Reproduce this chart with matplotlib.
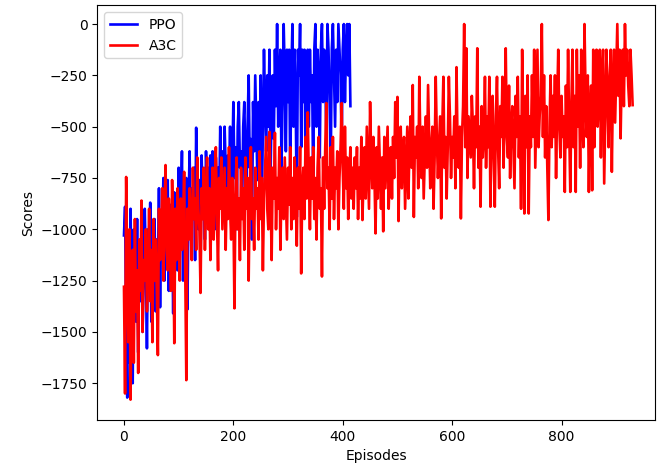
import numpy as np
import matplotlib
matplotlib.use("Agg")
import matplotlib.pyplot as plt

# ======================================================================
# Scores, one value every EPISODE_STEP episodes
# ======================================================================
EPISODE_STEP = 2

ppo_scores = [
    -1030, -890, -1500, -1820, -1100, -1650, -900, -1300, -1750, -1000,
    -1200, -1450, -950, -1600, -1100, -1350, -1000, -1500, -1250, -900,
    -1150, -1580, -1000, -1300, -870, -1450, -1100, -1250, -950, -1400,
    -1050, -1200, -800, -1380, -950, -1100, -750, -1250, -900, -1050,
    -760, -1300, -880, -1150, -1000, -1410, -820, -1050, -950, -1200,
    -700, -1100, -900, -620, -1250, -850, -1000, -750, -1390, -900,
    -620, -1050, -800, -950, -700, -1150, -505, -880, -1000, -760,
    -1200, -640, -900, -760, -1050, -620, -830, -700, -950, -640,
    -870, -620, -760, -1000, -650, -820, -700, -900, -500, -780,
    -620, -950, -500, -700, -850, -640, -760, -500, -880, -700,
    -380, -750, -600, -1000, -500, -380, -700, -620, -900, -500,
    -380, -650, -800, -500, -250, -700, -560, -1050, -380, -620,
    -250, -500, -760, -380, -620, -250, -900, -500, -125, -400,
    -620, -250, -500, -125, -750, -380, -250, -560, -125, -400,
    0, -500, -250, -125, -700, -380, 0, -250, -620, -125,
    -380, -125, -730, -250, 0, -500, -125, -380, -940, -125,
    -250, 0, -600, -125, -380, -125, -700, -250, -125, -500,
    -125, -380, -250, -800, -125, 0, -500, -125, -250, -650,
    -125, 0, -380, -125, -250, -560, 0, -125, -380, -700,
    -125, 0, -250, -500, -125, -380, 0, -125, -250, -600,
    -125, 0, -380, -125, 0, -250, 0, -400,
]

a3c_scores = [
    -1280, -1800, -745, -1200, -1550, -1000, -1830, -1300, -1100, -1650,
    -950, -1400, -1200, -1700, -1050, -1300, -860, -1500, -1150, -1250,
    -1000, -1400, -1200, -900, -1350, -1100, -1550, -950, -1250, -1050,
    -1300, -1613, -900, -1150, -1000, -800, -1250, -950, -687, -1100,
    -1200, -850, -1050, -1300, -760, -1000, -1555, -900, -1150, -800,
    -1000, -1250, -850, -1100, -950, -720, -1200, -1735, -900, -1050,
    -800, -1000, -1150, -700, -950, -850, -1100, -650, -900, -1000,
    -1310, -800, -950, -700, -1100, -850, -650, -1000, -800, -1150,
    -900, -700, -1050, -800, -600, -950, -1200, -750, -900, -650,
    -1000, -850, -700, -1100, -800, -950, -600, -900, -1050, -750,
    -900, -1385, -800, -650, -1000, -850, -1150, -700, -950, -800,
    -1100, -650, -900, -750, -1250, -800, -600, -950, -850, -1100,
    -700, -900, -800, -1050, -620, -950, -750, -1200, -850, -700,
    -550, -900, -1000, -525, -800, -1150, -700, -850, -530, -1000,
    -750, -900, -600, -1100, -800, -700, -950, -650, -850, -1050,
    -700, -880, -600, -1000, -750, -950, -650, -850, -1080, -700,
    -900, -600, -1215, -800, -700, -950, -550, -850, -430, -750,
    -1000, -650, -850, -600, -950, -750, -1050, -700, -550, -900,
    -800, -1230, -650, -900, -600, -385, -800, -700, -1000, -600,
    -850, -550, -950, -700, -800, -620, -1000, -750, -600, -385,
    -700, -900, -500, -800, -650, -950, -750, -600, -850, -700,
    -900, -650, -800, -600, -950, -700, -850, -550, -955, -750,
    -600, -850, -500, -700, -900, -380, -650, -800, -550, -750,
    -1020, -600, -850, -500, -700, -900, -650, -1010, -550, -800,
    -650, -500, -900, -700, -600, -850, -550, -750, -380, -650,
    -355, -960, -600, -500, -800, -650, -550, -900, -700, -500,
    -850, -600, -450, -700, -297, -940, -550, -650, -500, -800,
    -257, -600, -750, -500, -850, -650, -450, -700, -297, -550,
    -800, -600, -500, -900, -650, -257, -550, -750, -600, -450,
    -947, -500, -257, -700, -550, -850, -600, -257, -450, -750,
    -550, -650, -450, -800, -210, -600, -700, -500, -947, -550,
    -400, 0, -600, -118, -750, -450, -550, -650, -350, -500,
    -800, -450, -600, -118, -700, -500, -890, -400, -650, -550,
    -257, -700, -450, -600, -257, -890, -500, -350, -650, -890,
    -450, -257, -600, -800, -400, -550, -257, -700, -450, -118,
    -550, -650, -300, -750, -500, -400, -600, -800, -350, -550,
    -257, -650, -450, -900, -125, -500, -923, -350, -600, -250,
    -923, -450, -600, -250, -550, -125, -700, -400, -125, -600,
    -450, -350, 0, -550, -250, -650, -400, -700, -955, -500,
    -250, -600, -350, -550, -250, -750, -400, -125, -500, -650,
    -350, -550, -450, -818, -300, -600, -125, -500, -818, -400,
    -125, -600, -350, -818, -125, -500, -250, -700, -125, -450,
    -600, 0, -350, -550, -250, -818, -450, -300, -810, -125,
    -600, -250, -125, -500, -350, -125, -650, -250, -125, -777,
    -450, -125, -350, -600, -250, -125, -720, -300, -125, -480,
    -250, 0, -350, -125, -557, -250, -125, -400, 0, -250,
    -125, -300, -400, -125, -250, -395,
]

ppo_episodes = np.arange(len(ppo_scores)) * EPISODE_STEP
a3c_episodes = np.arange(len(a3c_scores)) * EPISODE_STEP

# ======================================================================
# Plot
# ======================================================================
fig = plt.figure(figsize=(6.61, 4.70), dpi=100)
ax = fig.add_axes([0.147, 0.106, 0.844, 0.883])

ax.plot(ppo_episodes, ppo_scores, color='b', lw=1.9, label='PPO')
ax.plot(a3c_episodes, a3c_scores, color='r', lw=1.9, label='A3C')

ax.set_xlim(-49, 971)
ax.set_ylim(-1930, 92)
ax.set_xlabel('Episodes')
ax.set_ylabel('Scores')
ax.legend(loc='upper left')

fig.savefig('out.png', dpi=100)
